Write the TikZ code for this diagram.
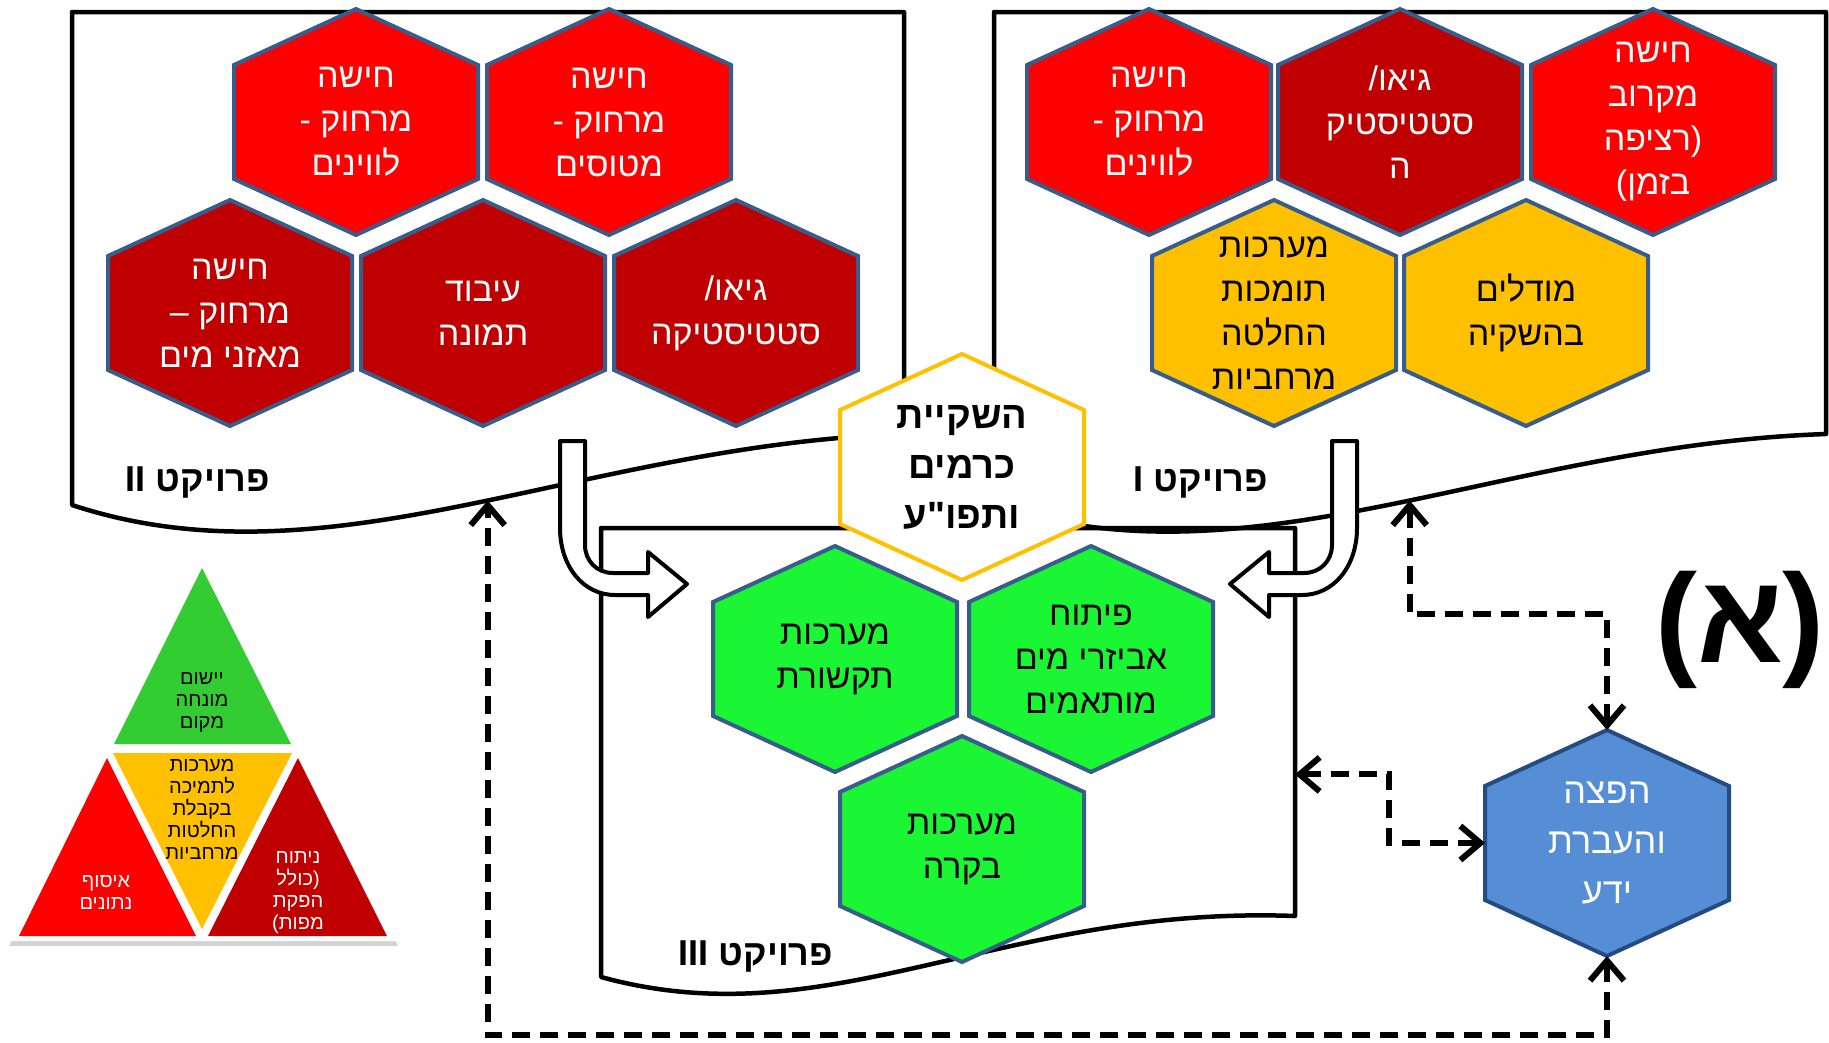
\documentclass[tikz,border=0pt]{standalone}
\usepackage{fontspec}
\setmainfont{Liberation Sans}
\newfontfamily\hebfont[Script=Hebrew]{Liberation Sans}
\TeXXeTstate=1
\usetikzlibrary{arrows.meta,shadows}

\definecolor{hexedge}{RGB}{56,93,138}
\definecolor{hotred}{RGB}{255,0,0}
\definecolor{deepred}{RGB}{192,0,0}
\definecolor{amber}{RGB}{255,192,0}
\definecolor{leafgreen}{RGB}{26,245,52}
\definecolor{trigreen}{RGB}{51,204,51}
\definecolor{skyblue}{RGB}{85,142,213}
\definecolor{navyedge}{RGB}{36,75,130}

\newcommand{\rl}[1]{\beginR#1\endR}

% hexagon of fixed size, pointed at top and bottom
\makeatletter
\def\hexhw{122pt}\def\hexhh{113pt}\def\hexhs{57pt}
\pgfdeclareshape{hexcell}{%
  \inheritsavedanchors[from=circle]%
  \inheritanchor[from=circle]{center}%
  \anchor{north}{\centerpoint\advance\pgf@y by \hexhh}%
  \anchor{south}{\centerpoint\advance\pgf@y by -\hexhh}%
  \anchor{east}{\centerpoint\advance\pgf@x by \hexhw}%
  \anchor{west}{\centerpoint\advance\pgf@x by -\hexhw}%
  \anchorborder{\centerpoint}%
  \backgroundpath{%
    \pgfpathmoveto{\pgfpointadd{\centerpoint}{\pgfqpoint{0pt}{\hexhh}}}%
    \pgfpathlineto{\pgfpointadd{\centerpoint}{\pgfqpoint{\hexhw}{\hexhs}}}%
    \pgfpathlineto{\pgfpointadd{\centerpoint}{\pgfqpoint{\hexhw}{-\hexhs}}}%
    \pgfpathlineto{\pgfpointadd{\centerpoint}{\pgfqpoint{0pt}{-\hexhh}}}%
    \pgfpathlineto{\pgfpointadd{\centerpoint}{\pgfqpoint{-\hexhw}{-\hexhs}}}%
    \pgfpathlineto{\pgfpointadd{\centerpoint}{\pgfqpoint{-\hexhw}{\hexhs}}}%
    \pgfpathclose
  }%
}
\makeatother

\begin{document}
\begin{tikzpicture}[x=1pt,y=-1pt]
    \tikzstyle{cell} = [shape=hexcell,draw=hexedge,line width=4pt,align=center,text=white,font=\hebfont\fontsize{34}{44}\selectfont]
    \tikzstyle{redcell} = [cell,fill=hotred]
    \tikzstyle{darkcell} = [cell,fill=deepred]
    \tikzstyle{ambercell} = [cell,fill=amber,text=black]
    \tikzstyle{greencell} = [cell,fill=leafgreen,text=black]
    \tikzstyle{bluecell} = [cell,fill=skyblue,draw=navyedge,font=\hebfont\fontsize{36}{50}\selectfont]
    \tikzstyle{hubcell} = [cell,fill=white,draw=amber,text=black,font=\hebfont\bfseries\fontsize{38}{50}\selectfont]
    \tikzstyle{sheet} = [draw=black,line width=4.5pt,line join=round]
    \tikzstyle{turnarrow} = [draw=black,fill=white,line width=4pt,line join=round]
    \tikzstyle{dashlink} = [line width=6pt,dash pattern=on 18pt off 10pt,{Straight Barb[length=20pt,width=34pt]}-{Straight Barb[length=20pt,width=34pt]}]
    \tikzstyle{tag} = [font=\hebfont\bfseries\fontsize{36}{40}\selectfont]
    \tikzstyle{tritext} = [align=center,font=\hebfont\fontsize{20}{22}\selectfont]
    \useasboundingbox (0,0) rectangle (1829,1042);

    % project sheets
    \draw[sheet] (72,12) -- (904,12) -- (904,434) .. controls (580,445) and (330,590) .. (72,505) coordinate[pos=0.47] (tapII) -- cycle;
    \draw[sheet] (994,12) -- (1826,12) -- (1826,434) .. controls (1502,445) and (1252,590) .. (994,505) coordinate[pos=0.47] (tapI) -- cycle;
    \node[tag] (labII) at (198,482) {\rl{פרויקט II}};
    \node[tag] (labI) at (1201,482) {\rl{פרויקט I}};

    % project II
    \node[redcell] (satII) at (356,122) {\rl{חישה}\\\rl{מרחוק -}\\\rl{לווינים}};
    \node[redcell] (planes) at (609,122) {\rl{חישה}\\\rl{מרחוק -}\\\rl{מטוסים}};
    \node[darkcell] (balance) at (230,313) {\rl{חישה}\\\rl{מרחוק –}\\\rl{מאזני מים}};
    \node[darkcell] (imaging) at (483,313) {\rl{עיבוד}\\\rl{תמונה}};
    \node[darkcell] (geoII) at (736,313) {\rl{גיאו/}\\\rl{סטטיסטיקה}};

    % project I
    \node[redcell] (satI) at (1149,122) {\rl{חישה}\\\rl{מרחוק -}\\\rl{לווינים}};
    \node[darkcell] (geoI) at (1400,122) {\rl{גיאו/}\\\rl{סטטיסטיק}\\\rl{ה}};
    \node[redcell] (nearby) at (1653,122) {\rl{חישה}\\\rl{מקרוב}\\\rl{(רציפה}\\\rl{בזמן)}};
    \node[ambercell] (dss) at (1274,313) {\rl{מערכות}\\\rl{תומכות}\\\rl{החלטה}\\\rl{מרחביות}};
    \node[ambercell] (models) at (1526,313) {\rl{מודלים}\\\rl{בהשקיה}};

    % project III
    \draw[sheet] (601,528) -- (1295,528) -- (1295,916) coordinate[pos=0.635] (tapIII) .. controls (1000,905) and (830,1040) .. (601,977) -- cycle;
    \node[tag] (labIII) at (756,956) {\rl{פרויקט III}};
    \node[greencell] (comms) at (835,659) {\rl{מערכות}\\\rl{תקשורת}};
    \node[greencell] (fittings) at (1091,659) {\rl{פיתוח}\\\rl{אביזרי מים}\\\rl{מותאמים}};
    \node[greencell] (control) at (962,849) {\rl{מערכות}\\\rl{בקרה}};

    \node[hubcell] (hub) at (962,467) {\rl{השקיית}\\\rl{כרמים}\\\rl{ותפו"ע}};

    % turning arrows into project III
    \filldraw[turnarrow] (560,441) -- (585,441) -- (585,545) .. controls (585,561) and (597,573) .. (613,573) -- (648,573) -- (648,552) -- (687,584) -- (648,617) -- (648,595) -- (615,595) .. controls (583,595) and (560,566) .. (560,528) -- cycle;
    \filldraw[turnarrow] (1357,441) -- (1332,441) -- (1332,545) .. controls (1332,561) and (1320,573) .. (1304,573) -- (1269,573) -- (1269,552) -- (1230,584) -- (1269,617) -- (1269,595) -- (1302,595) .. controls (1334,595) and (1357,566) .. (1357,528) -- cycle;

    % knowledge transfer
    \node[bluecell] (transfer) at (1607,843) {\rl{הפצה}\\\rl{והעברת}\\\rl{ידע}};
    \coordinate (topRun) at (0,614);
    \coordinate (baseRun) at (0,1035);
    \draw[dashlink] (transfer.north) -- (transfer.north |- topRun) -| (tapI);
    \draw[dashlink] (tapIII) -- ++(94,0) |- (transfer.west);
    \draw[dashlink] (transfer.south) -- (transfer.south |- baseRun) -| (tapII);

    \node[font=\hebfont\bfseries\fontsize{126}{136}\selectfont] (mark) at (1740,630) {\rl{(א)}};

    % legend triangle
    \fill[white,drop shadow={opacity=.35,shadow xshift=1pt,shadow yshift=-5pt}] (202,555) -- (8,941) -- (397,941) -- cycle;
    \fill[trigreen] (202,568) -- (114,744) -- (291,744) -- cycle;
    \fill[amber] (113,753) -- (292,753) -- (202,929) -- cycle;
    \fill[hotred] (107,758) -- (19,936) -- (196,936) -- cycle;
    \fill[deepred] (298,758) -- (208,936) -- (387,936) -- cycle;
    \node[tritext] (onsite) at (202,702) {\rl{יישום}\\\rl{מונחה}\\\rl{מקום}};
    \node[tritext] (support) at (202,809) {\rl{מערכות}\\\rl{לתמיכה}\\\rl{בקבלת}\\\rl{החלטות}\\\rl{מרחביות}};
    \node[tritext,text=white] (collect) at (106,892) {\rl{איסוף}\\\rl{נתונים}};
    \node[tritext,text=white] (analyse) at (298,893) {\rl{ניתוח}\\\rl{(כולל}\\\rl{הפקת}\\\rl{מפות)}};
\end{tikzpicture}
\end{document}
